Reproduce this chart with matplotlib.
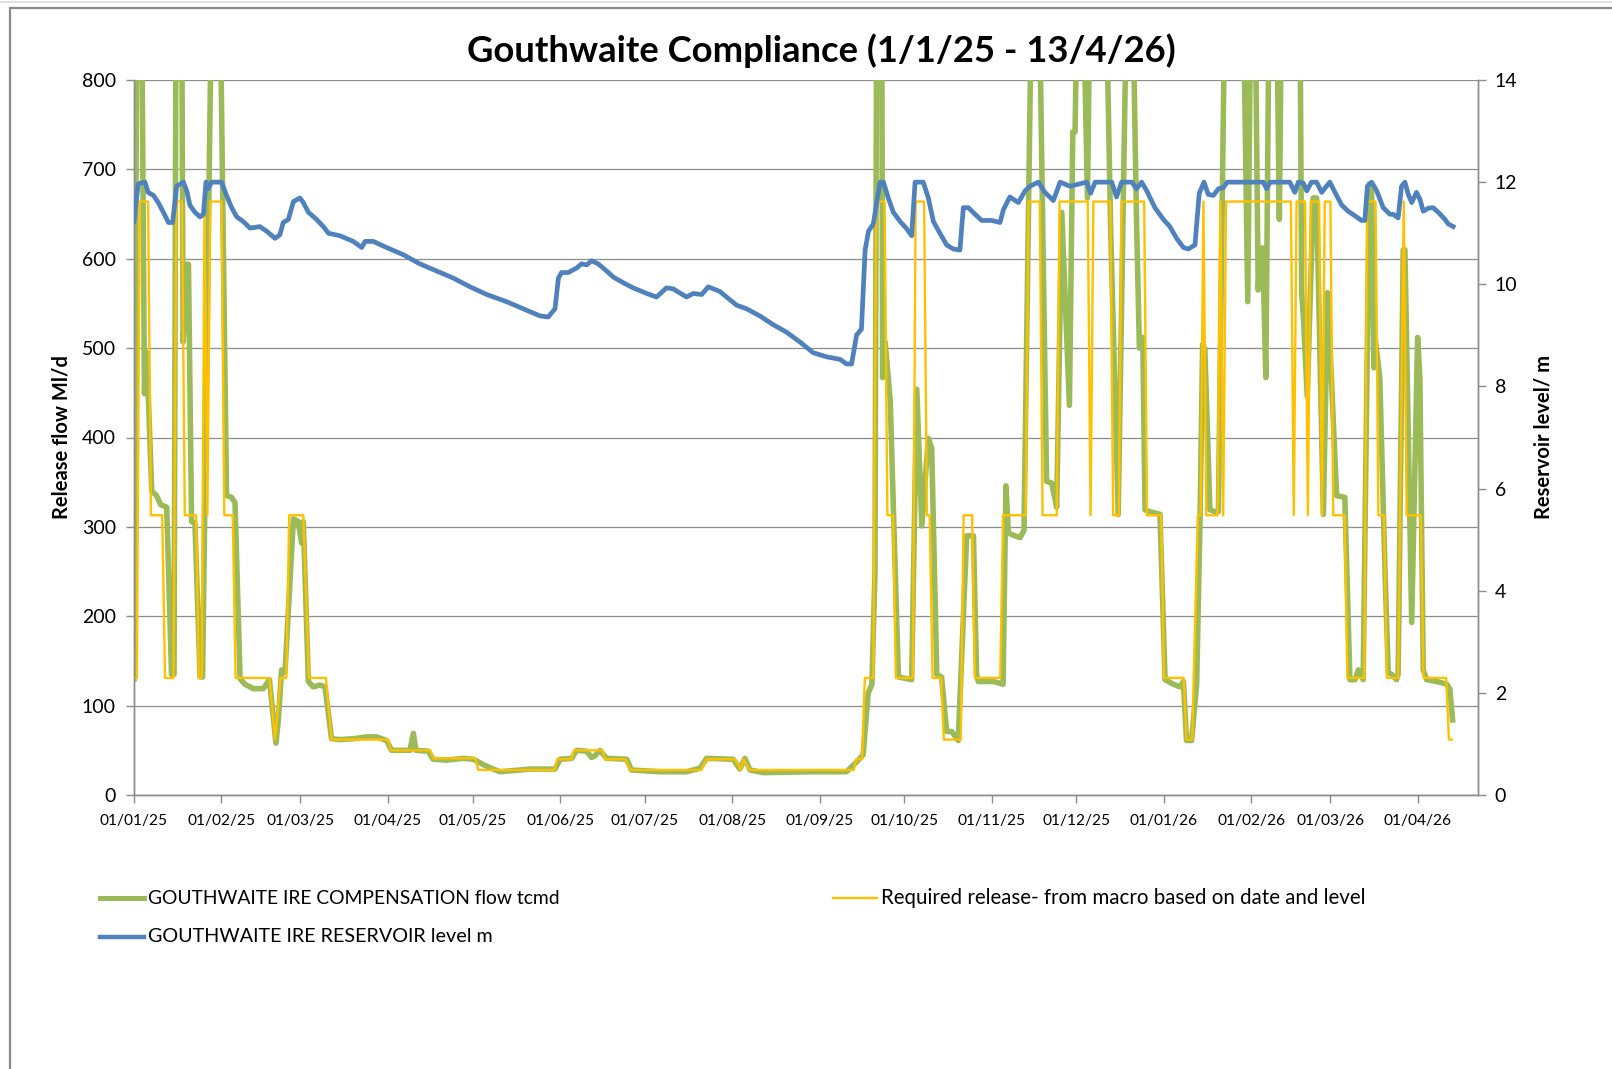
import numpy as np
import matplotlib
matplotlib.use("Agg")
import matplotlib.pyplot as plt
import matplotlib.dates as mdates
from matplotlib.lines import Line2D
from matplotlib.patches import Rectangle
from datetime import datetime

plt.rcParams['font.family'] = ['Lato', 'DejaVu Sans']

# ---------------- data (days since 01/01/25) ----------------
flow_days = [0, 1, 2.7, 3.7, 4.5, 6.3, 8, 9.4, 11.6, 13.3, 14.2, 14.9, 16.9, 17.4, 18.9, 19.3,
             20.4, 21.6, 23.4, 24.3, 27.5, 30.5, 32.8, 34.6, 35.8, 37.6, 39.3, 42.3, 45.8, 48,
             50.3, 51.1, 52.3, 53.5, 56.5, 58.2, 59.4, 60, 61.8, 63.5, 65.9, 67.7, 70, 73, 77.7,
             82.4, 86, 89.5, 91.3, 97.8, 99, 99.9, 104.3, 106, 110.8, 116.7, 120.2, 123.8, 127.3,
             129.7, 140.3, 149.2, 151, 155.1, 156.9, 160.4, 162.2, 163.4, 165.1, 167.5, 174.6,
             176.3, 186.4, 195.8, 200.6, 202.9, 212.4, 214.7, 216.5, 218.3, 223, 240.7, 252.5,
             256.1, 258.4, 260.2, 261.5, 262.6, 263.2, 265, 265.3, 266.2, 268, 270.9, 275.6,
             277.4, 279.2, 281.5, 282.7, 284.5, 286.2, 288, 289.8, 292.1, 295.1, 297.5, 298.6,
             299.2, 304.5, 308, 309, 309.9, 312.2, 314, 315.4, 318.1, 320.8, 323.4, 325.2, 327,
             328.8, 331.5, 332.7, 333.5, 334.3, 336.4, 337.9, 338.8, 344.5, 346.1, 348.8, 351.8,
             353.9, 355.3, 356.3, 357.5, 358.3, 360, 363.6, 365.4, 368.3, 370.7, 371.9, 373,
             374.8, 376.6, 377.8, 378.7, 379.5, 381.3, 383.1, 384.3, 386.6, 393.1, 394.7, 395.8,
             397.3, 398.4, 399.2, 400, 401.1, 402.3, 404.9, 405.9, 406.7, 413.2, 413.8, 414.4,
             415.8, 417.9, 419.1, 421.5, 423, 426.2, 429.1, 430.9, 432.7, 433.9, 435.6, 437.8,
             438.6, 439.4, 439.9, 441.5, 443.3, 444.5, 445.7, 447.4, 448, 449.8, 450.4, 452.8,
             454.9, 455.7, 456.9, 458.1, 461.6, 465.2, 466.3, 467.3]
flow_vals = [130, 900, 900, 449, 495, 340, 335, 325, 322, 135, 135, 900, 900, 507, 594, 594,
             306, 304, 132, 132, 900, 900, 335, 333, 327, 130, 124, 119, 119, 129,
             58, 82, 140, 137, 309, 306, 282, 306, 127, 121, 123, 121, 63, 62, 63,
             65, 65, 61, 50, 50, 69, 50, 49, 40, 39, 41, 40, 34, 29,
             26, 29, 29, 40, 41, 50, 49, 42, 44, 50, 41, 40,
             28, 26, 26, 30, 41, 40, 29, 41, 28, 25, 26, 26,
             37, 45, 114, 124, 250, 900, 900, 467, 507, 441, 132, 129,
             454, 301, 399, 388, 135, 132, 71, 71, 61, 290, 290, 135,
             127, 127, 124, 346, 293, 290, 288, 296, 900, 900, 351, 349, 322,
             652, 436, 742, 742, 900, 900, 668, 900, 900, 636, 314, 900,
             900, 640, 500, 512, 319, 317, 314, 129, 124, 121, 127, 61,
             61, 124, 309, 504, 499, 319, 317, 317, 900, 900, 552, 900,
             900, 565, 612, 612, 467, 900, 900, 644, 900, 900, 562, 536,
             446, 668, 668, 314, 562, 335, 333, 129, 129, 140, 129, 684,
             680, 478, 510, 467, 256, 137, 135, 129, 135, 610, 610, 193,
             512, 467, 140, 129, 127, 124, 119, 84]

req_start = [0, 2, 6, 11, 15, 18, 23, 25, 26, 27, 32, 36, 50, 52, 55, 62, 70, 91, 106, 122,
             150, 156, 167, 176, 203, 215, 216, 218, 256, 259, 263, 267, 270, 277, 281, 283,
             287, 294, 298, 308, 317, 322, 328, 339, 340, 347, 350, 359, 365, 373, 377, 379,
             380, 385, 386, 387, 411, 412, 416, 417, 421, 422, 425, 430, 437, 441, 444, 450,
             451, 457, 466]
req_end = [1, 5, 10, 14, 17, 22, 24, 25, 26, 31, 35, 48, 50, 54, 60, 68, 90, 105, 121, 149,
           155, 166, 174, 201, 213, 215, 216, 255, 258, 262, 266, 269, 276, 280, 282, 286,
           293, 297, 307, 316, 321, 327, 338, 339, 346, 349, 358, 364, 372, 375, 378, 379,
           384, 385, 386, 410, 411, 415, 416, 420, 421, 424, 429, 436, 440, 443, 448, 450,
           456, 465, 467]
req_vals = [131, 664, 313, 131, 664, 313, 131, 664, 313, 664, 313, 131, 62, 131, 313, 131, 62,
            50, 41, 28, 40, 50, 40, 28, 40, 28, 40, 28, 40, 131, 664, 313, 131, 664, 313, 131,
            62, 313, 131, 313, 664, 313, 664, 313, 664, 313, 664, 313, 131, 62, 313, 664,
            313, 664, 313, 664, 313, 664, 313, 664, 313, 664, 313, 131, 664, 313, 131, 664,
            313, 131, 62]

level_days = [0, 1.5, 3.9, 5, 6.9, 8.6, 10.4, 12.2, 13.7, 15.1, 17.5, 18.7, 19.8, 21.6, 23.4,
              24.6, 25.5, 26.3, 27.5, 31, 32.8, 34.6, 36.4, 38.7, 41.1, 44.6, 47, 50, 51.7,
              52.9, 54.7, 56.5, 58.8, 60, 61.8, 64.7, 67.1, 68.9, 73, 77.7, 80.7, 81.9, 84.8,
              89.5, 95.4, 101.3, 107.3, 113.2, 119.1, 125, 132, 138, 143.9, 146.8, 149.2,
              150.4, 151.5, 153.9, 156.9, 158.6, 160.4, 162.2, 164.5, 167.5, 169.9, 173.4,
              176.9, 181.7, 185.2, 188.7, 191.1, 195.8, 198.2, 201.2, 203.5, 207.6, 210,
              213.6, 217.1, 221.8, 226.5, 231.3, 236, 240.7, 245.4, 250.2, 252.5, 254.3,
              256.1, 257.8, 259.1, 260.3, 262, 263.2, 264.4, 265.6, 267.3, 269.1, 271.5,
              273.8, 275.6, 276.8, 279.7, 281.5, 283.3, 285.6, 288, 290.4, 292.7, 293.9,
              295.7, 298.1, 300.4, 304, 306.9, 308.1, 310.4, 313.4, 315.8, 317.5, 320.5,
              322.8, 325.8, 328.2, 331.7, 337.6, 339, 340.6, 346.5, 348.2, 350, 353.6, 355.3,
              357.1, 358.9, 361.8, 364.8, 367.1, 369.5, 371.9, 373.6, 376, 377.5, 379.2,
              380.7, 382.5, 384.3, 386, 387.4, 400.2, 401.4, 402.6, 409.6, 411.4, 412.6,
              414.4, 415.6, 417.3, 419.1, 420.9, 422.6, 423.8, 425.6, 428, 430.3, 432.7, 435,
              436.2, 437.1, 438.6, 440.4, 442.7, 445.1, 446.3, 448, 449.2, 450.4, 451.6,
              452.8, 454.5, 455.7, 456.9, 458.7, 460.4, 462.2, 464.6, 465.8, 467.5]
level_vals = [11.23, 11.97, 12, 11.8, 11.74, 11.6, 11.41, 11.21, 11.21, 11.92, 12, 11.83, 11.55,
              11.41, 11.32, 11.37, 12, 11.87, 12, 12, 11.74, 11.5, 11.32, 11.23, 11.1, 11.13,
              11.04, 10.9, 10.97, 11.21, 11.27, 11.62, 11.69, 11.6, 11.41, 11.27, 11.13, 11.0,
              10.95, 10.84, 10.72, 10.84, 10.84, 10.72, 10.58, 10.4, 10.26, 10.12, 9.95, 9.8,
              9.66, 9.52, 9.38, 9.36, 9.52, 10.12, 10.23, 10.23, 10.32, 10.4, 10.38, 10.46,
              10.4, 10.26, 10.14, 10.03, 9.93, 9.82, 9.75, 9.93, 9.91, 9.75, 9.82, 9.8, 9.95,
              9.86, 9.75, 9.59, 9.52, 9.38, 9.21, 9.06, 8.87, 8.66, 8.58, 8.53, 8.44, 8.44,
              9.01, 9.12, 10.67, 11.04, 11.18, 11.6, 12, 12, 11.69, 11.41, 11.23, 11.09,
              10.95, 12, 12, 11.69, 11.23, 11.0, 10.77, 10.69, 10.67, 11.5, 11.5, 11.37,
              11.25, 11.25, 11.21, 11.46, 11.71, 11.6, 11.83, 11.92, 12, 11.8, 11.64, 12,
              11.92, 12, 11.78, 12, 12, 11.71, 12, 12, 11.87, 12, 11.83, 11.5, 11.27, 11.13,
              10.9, 10.72, 10.69, 10.77, 11.78, 12, 11.76, 11.74, 11.87, 11.89, 12, 12,
              11.87, 12, 12, 11.8, 12, 11.98, 11.83, 12, 12, 11.8, 11.92, 12, 11.8, 11.55,
              11.43, 11.34, 11.25, 11.25, 11.92, 12, 11.83, 11.5, 11.37, 11.37, 11.3, 11.92,
              12, 11.76, 11.6, 11.8, 11.67, 11.43, 11.49, 11.5, 11.41, 11.27, 11.18, 11.13]

title = "Gouthwaite Compliance (1/1/25 - 13/4/26)"
label_flow = "GOUTHWAITE IRE COMPENSATION flow tcmd"
label_req = "Required release- from macro based on date and level"
label_level = "GOUTHWAITE IRE RESERVOIR level m"
left_ticks = [0, 100, 200, 300, 400, 500, 600, 700, 800]
right_ticks = [0, 2, 4, 6, 8, 10, 12, 14]

# ---------------- figure ----------------
W, H = 1612, 1069
fig = plt.figure(figsize=(W / 100, H / 100), dpi=100)
fig.patch.set_facecolor('white')

def fx(px):
    return px / W

def fy(py):
    return 1 - py / H

# outer chart frame (partly cropped in screenshot)
fig.add_artist(Rectangle((fx(10), fy(1200)), fx(1700), 1192 / H,
                         transform=fig.transFigure, fill=False, edgecolor='#8a8a8a',
                         linewidth=1.6))
fig.add_artist(Line2D([0, 1], [fy(2), fy(2)], transform=fig.transFigure,
                      color='#dcdcdc', linewidth=1.2))

L, R, T, B = 134, 1478, 80, 795
ax = fig.add_axes([fx(L), fy(B), fx(R - L), (B - T) / H])
ax2 = ax.twinx()

base = mdates.date2num(datetime(2025, 1, 1))
fd = base + np.asarray(flow_days, float)
ld = base + np.asarray(level_days, float)
rx, ry = [], []
for s, e, v in zip(req_start, req_end, req_vals):
    rx += [s, e]
    ry += [v, v]
rx = base + np.asarray(rx, float)

GREEN, YELLOW, BLUE = '#9BBB59', '#FFC000', '#4F81BD'
ax.plot(fd, flow_vals, color=GREEN, linewidth=4.0, solid_joinstyle='round', zorder=2)
ax.plot(rx, ry, color=YELLOW, linewidth=1.7, zorder=3)
ax2.plot(ld, level_vals, color=BLUE, linewidth=3.4, solid_joinstyle='round', zorder=3)

ax.set_ylim(0, 800)
ax2.set_ylim(0, 14)
ax.set_xlim(base, base + 476.3)
ax.set_yticks(left_ticks)
ax2.set_yticks(right_ticks)
ax.grid(axis='y', color='#8c8c8c', linewidth=0.9)
ax.set_axisbelow(True)

ax.xaxis.set_major_locator(mdates.MonthLocator(bymonthday=1))
ax.xaxis.set_major_formatter(mdates.DateFormatter('%d/%m/%y'))

for a in (ax, ax2):
    a.spines['top'].set_visible(False)
    for s in ('left', 'right', 'bottom'):
        a.spines[s].set_color('#8c8c8c')
        a.spines[s].set_linewidth(1.0)
ax.tick_params(axis='x', direction='out', length=6, width=1, color='#8c8c8c',
               labelsize=11.2, pad=8, labelcolor='#000000')
ax.tick_params(axis='y', direction='out', length=6, width=1, color='#8c8c8c',
               labelsize=14, pad=7)
ax2.tick_params(axis='y', direction='out', length=6, width=1, color='#8c8c8c',
                labelsize=14, pad=6)

fig.text(fx(821), fy(51), title, ha='center', va='center', fontsize=26.2, fontweight='bold')
fig.text(fx(61), fy(437), "Release flow Ml/d", rotation=90, ha='center', va='center',
         fontsize=14.5, fontweight='bold')
fig.text(fx(1543), fy(437), "Reservoir level/ m", rotation=90, ha='center', va='center',
         fontsize=14.5, fontweight='bold')

# legend
def leg(x0, y, color, lw, text, size):
    fig.add_artist(Line2D([fx(x0), fx(x0 + 44)], [fy(y), fy(y)], transform=fig.transFigure,
                          color=color, linewidth=lw))
    fig.text(fx(x0 + 48), fy(y), text, ha='left', va='center', fontsize=size)

leg(100, 898, GREEN, 3.6, label_flow, 13.9)
leg(833, 898, YELLOW, 1.7, label_req, 14.8)
leg(100, 937, BLUE, 3.2, label_level, 14.2)

fig.savefig('out.png', dpi=100, facecolor='white')
